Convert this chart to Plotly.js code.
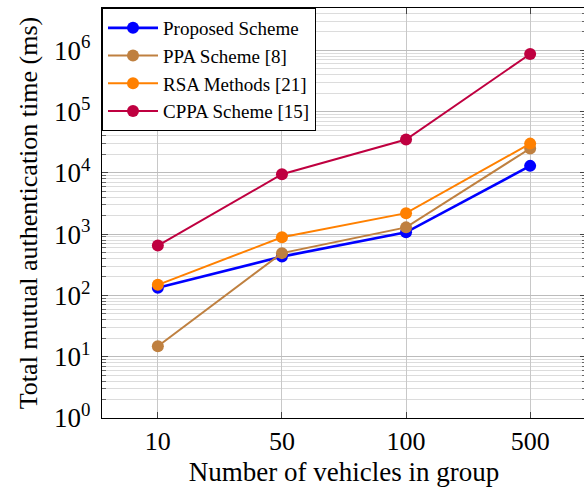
<!DOCTYPE html>
<html>
<head>
<meta charset="utf-8">
<script src="https://cdn.plot.ly/plotly-3.0.1.min.js"></script>
<style>
html,body{margin:0;padding:0;overflow:hidden;background:#fff;}
#chart{width:590px;height:491px;}
</style>
</head>
<body>
<div id="chart"></div>
<script>
var categories = ['10', '50', '100', '500'];
var proposed = [133, 430, 1070, 13000];
var ppa = [14.8, 490, 1290, 25000];
var rsa = [149, 890, 2200, 30000];
var cppa = [650, 9500, 35000, 870000];
var seriesNames = ['Proposed Scheme', 'PPA Scheme [8]', 'RSA Methods [21]', 'CPPA Scheme [15]'];
var seriesColors = ['#0000ff', '#bf8040', '#ff8000', '#bf0040'];
var yTickVals = [1, 10, 100, 1000, 10000, 100000, 1000000];
var yTickText = ['10<sup>0</sup>', '10<sup>1</sup>', '10<sup>2</sup>', '10<sup>3</sup>', '10<sup>4</sup>', '10<sup>5</sup>', '10<sup>6</sup>'];

var allValues = [proposed, ppa, rsa, cppa];
var traces = allValues.map(function (vals, i) {
  return {
    x: categories,
    y: vals,
    name: seriesNames[i],
    type: 'scatter',
    mode: 'lines+markers',
    line: {color: seriesColors[i], width: i === 0 ? 2.6 : 2},
    marker: {color: seriesColors[i], size: 12}
  };
});

var font = "'Liberation Serif', 'Times New Roman', serif";
var layout = {
  width: 590,
  height: 491,
  margin: {l: 102, r: 4, t: 8, b: 73},
  paper_bgcolor: '#fff',
  plot_bgcolor: '#fff',
  font: {family: font, color: '#000', size: 24},
  showlegend: true,
  legend: {
    x: 0, y: 1, xanchor: 'left', yanchor: 'top',
    bgcolor: '#fff', bordercolor: '#000', borderwidth: 1,
    font: {family: font, size: 19, color: '#000'},
    itemwidth: 50,
    tracegroupgap: 0
  },
  xaxis: {
    type: 'category',
    range: [-0.45, 3.45],
    showline: true, linecolor: '#000', linewidth: 1.2, mirror: 'allticks',
    ticks: 'inside', ticklen: 6, tickcolor: '#444',
    showgrid: true, gridcolor: '#c8c8c8', gridwidth: 1,
    tickfont: {family: font, size: 26},
    title: {text: 'Number of vehicles in group', font: {family: font, size: 27}, standoff: 6},
    zeroline: false
  },
  yaxis: {
    type: 'log',
    range: [0, 6.69],
    tickmode: 'array',
    tickvals: yTickVals,
    ticktext: yTickText,
    showline: true, linecolor: '#000', linewidth: 1.2, mirror: 'allticks',
    ticks: 'inside', ticklen: 6, tickcolor: '#444',
    ticklabelstandoff: 5,
    showgrid: true, gridcolor: '#bcbcbc', gridwidth: 1,
    minor: {tickmode: 'linear', dtick: 'D1', showgrid: true, gridcolor: '#dcdcdc', gridwidth: 1, ticks: 'inside', ticklen: 4, tickcolor: '#666'},
    tickfont: {family: font, size: 27},
    title: {text: 'Total mutual authentication time (ms)', font: {family: font, size: 26}, standoff: 8},
    zeroline: false
  }
};

Plotly.newPlot('chart', traces, layout, {displayModeBar: false, staticPlot: true});
</script>
</body>
</html>
